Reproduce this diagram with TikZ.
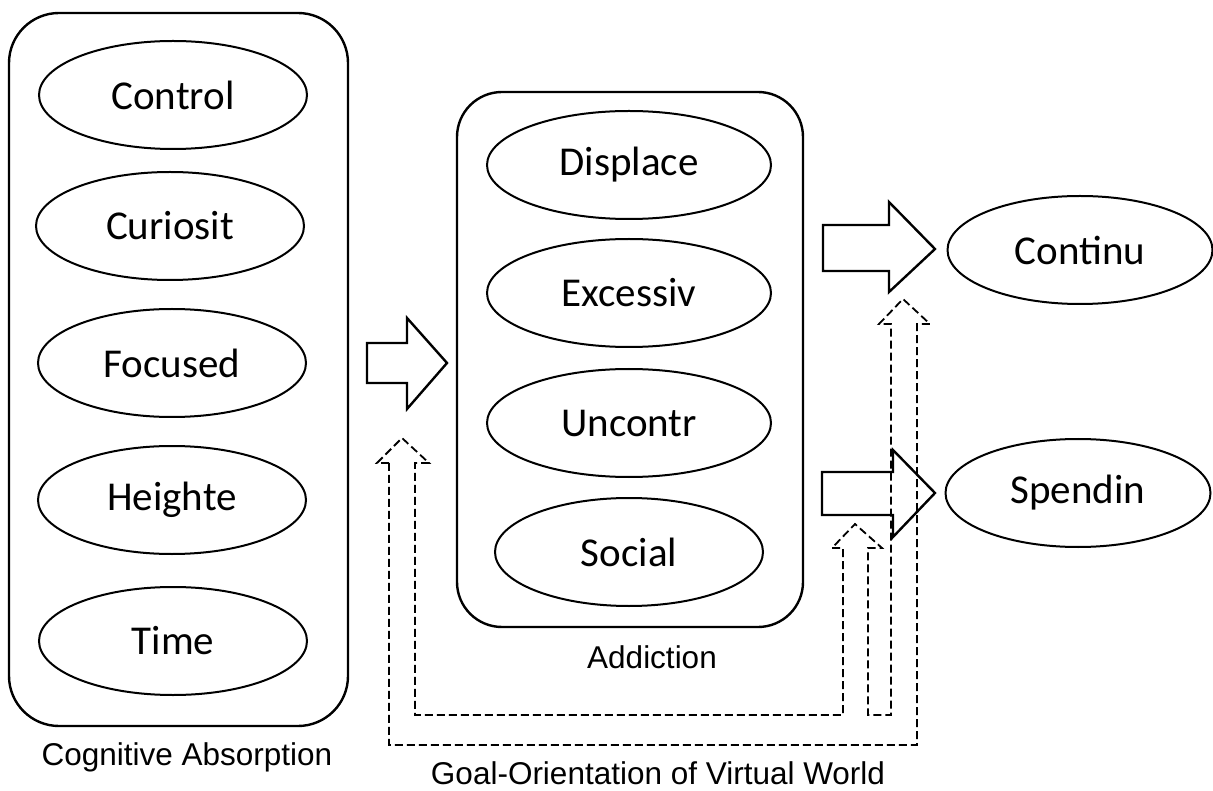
\documentclass[tikz,border=0pt]{standalone}
\usepackage{fontspec}
\setmainfont{Carlito}
\newfontfamily\labelfont{Liberation Sans}
\usepackage{tikz}
\usetikzlibrary{shapes.geometric}
\tikzstyle{factor} = [draw, ellipse, line width=2pt, inner sep=0pt, minimum width=268pt, minimum height=108pt, font=\fontsize{41}{49}\selectfont]
\tikzstyle{group} = [draw, rectangle, rounded corners=50pt, line width=2.4pt, inner sep=0pt]
\tikzstyle{blockarrow} = [draw, line width=2.4pt, line join=miter]
\tikzstyle{goalarrow} = [draw, line width=1.8pt, dash pattern=on 8pt off 4pt, line join=miter]
\tikzstyle{caption} = [font=\labelfont\fontsize{31.5}{37}\selectfont]

\begin{document}
\begin{tikzpicture}[x=1pt, y=-1pt]
\useasboundingbox (0,0) rectangle (1213,791);

% Groups
\node[group, minimum width=339pt, minimum height=713pt] (absorption) at (178.5,369.5) {};
\node[group, rounded corners=45pt, minimum width=346pt, minimum height=535pt] (addiction) at (630,359.5) {};

% Cognitive absorption factors
\node[factor] (control) at (173,95) {Control};
\node[factor] (curiosit) at (170,226) {Curiosit};
\node[factor] (focused) at (172,363) {Focused};
\node[factor] (heighte) at (172,500) {Heighte};
\node[factor] (time) at (173,641) {Time};

% Addiction factors
\node[factor, minimum width=284pt] (displace) at (629,165) {Displace};
\node[factor, minimum width=284pt] (excessiv) at (629,293) {Excessiv};
\node[factor, minimum width=284pt] (uncontr) at (629,423) {Uncontr};
\node[factor] (social) at (629,552) {Social};

% Outcomes
\node[factor, minimum width=265pt] (continu) at (1080,250) {Continu};
\node[factor, minimum width=265pt] (spendin) at (1078,493) {Spendin};

% Labels
\node[caption] (absorptionlabel) at (187,757) {Cognitive Absorption};
\node[caption] (addictionlabel) at (652,657) {Addiction};
\node[caption] (goallabel) at (658,773) {Goal-Orientation of Virtual World};

% Block arrows
\draw[blockarrow] (367,343) -- (407,343) -- (407,318) -- (447,363) -- (407,409) -- (407,383) -- (367,383) -- cycle;
\draw[blockarrow] (823,225) -- (889,225) -- (889,202) -- (935,249) -- (889,292) -- (889,271) -- (823,271) -- cycle;
\draw[blockarrow] (822,472) -- (893,472) -- (893,450) -- (935,493) -- (893,537) -- (893,515) -- (822,515) -- cycle;

% Goal-orientation arrows
\draw[goalarrow] (389,463) -- (377,463) -- (402,438) -- (429,463) -- (415,463) -- (415,715)
  -- (843,715) -- (843,548) -- (832,548) -- (855,524) -- (882,548) -- (868,548) -- (868,715)
  -- (891,715) -- (891,324) -- (879,324) -- (903,299) -- (930,324) -- (917,324) -- (917,745)
  -- (389,745) -- cycle;
\end{tikzpicture}
\end{document}
